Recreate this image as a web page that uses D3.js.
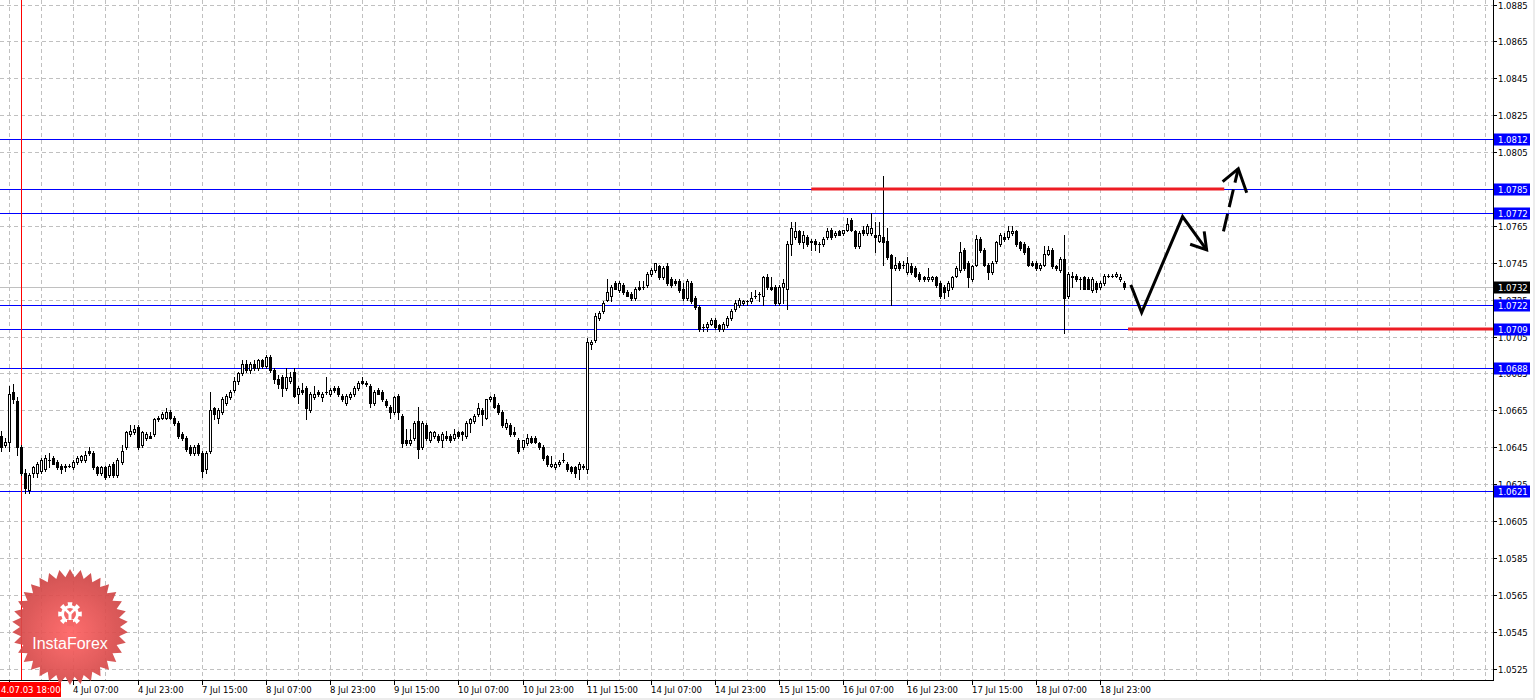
<!DOCTYPE html>
<html><head><meta charset="utf-8">
<script src="https://cdn.jsdelivr.net/npm/d3@7"></script>
<style>html,body{margin:0;padding:0;background:#fff;overflow:hidden}</style>
</head><body><svg id="c" width="1535" height="700"></svg>
<script>
// ---------- DATA ----------
// candles: [open, high, low, close], one per H1 bar
const candles = [
[1.0651,1.0654,1.0643,1.0645],[1.0646,1.0650,1.0645,1.0648],[1.0648,1.0678,1.0643,1.0674],[1.0675,1.0679,1.0669,1.0671],
[1.0670,1.0672,1.0641,1.0645],[1.0645,1.0646,1.0630,1.0631],[1.0631,1.0633,1.0620,1.0623],[1.0622,1.0631,1.0620,1.0630],
[1.0631,1.0635,1.0629,1.0634],[1.0631,1.0637,1.0629,1.0636],[1.0632,1.0639,1.0631,1.0638],[1.0633,1.0641,1.0632,1.0639],
[1.0638,1.0642,1.0634,1.0638],[1.0639,1.0640,1.0636,1.0636],[1.0637,1.0638,1.0633,1.0634],[1.0635,1.0636,1.0631,1.0633],
[1.0634,1.0636,1.0632,1.0635],[1.0635,1.0636,1.0634,1.0635],[1.0634,1.0638,1.0633,1.0637],[1.0637,1.0640,1.0636,1.0639],
[1.0638,1.0641,1.0637,1.0640],[1.0638,1.0643,1.0637,1.0641],[1.0643,1.0645,1.0641,1.0642],[1.0642,1.0643,1.0633,1.0634],
[1.0634,1.0635,1.0630,1.0631],[1.0631,1.0635,1.0630,1.0634],[1.0634,1.0635,1.0628,1.0629],[1.0630,1.0636,1.0629,1.0635],
[1.0636,1.0637,1.0629,1.0630],[1.0630,1.0639,1.0629,1.0638],[1.0637,1.0646,1.0636,1.0643],[1.0645,1.0654,1.0644,1.0653],
[1.0652,1.0657,1.0651,1.0654],[1.0653,1.0657,1.0652,1.0655],[1.0656,1.0657,1.0644,1.0645],[1.0646,1.0654,1.0645,1.0653],
[1.0650,1.0653,1.0649,1.0652],[1.0651,1.0653,1.0650,1.0650],[1.0652,1.0661,1.0651,1.0660],[1.0660,1.0662,1.0659,1.0661],
[1.0661,1.0664,1.0660,1.0663],[1.0661,1.0666,1.0660,1.0664],[1.0664,1.0665,1.0660,1.0661],[1.0661,1.0662,1.0657,1.0658],
[1.0658,1.0659,1.0650,1.0651],[1.0652,1.0653,1.0649,1.0650],[1.0650,1.0651,1.0643,1.0644],[1.0645,1.0646,1.0641,1.0642],
[1.0642,1.0646,1.0641,1.0645],[1.0646,1.0647,1.0641,1.0642],[1.0642,1.0643,1.0629,1.0632],[1.0633,1.0643,1.0631,1.0642],
[1.0643,1.0675,1.0642,1.0665],[1.0666,1.0667,1.0660,1.0663],[1.0661,1.0666,1.0658,1.0665],[1.0664,1.0672,1.0663,1.0671],
[1.0669,1.0674,1.0668,1.0673],[1.0672,1.0676,1.0671,1.0675],[1.0676,1.0683,1.0675,1.0681],[1.0681,1.0686,1.0679,1.0685],
[1.0685,1.0692,1.0684,1.0690],[1.0690,1.0692,1.0686,1.0687],[1.0687,1.0691,1.0685,1.0690],[1.0690,1.0692,1.0687,1.0688],
[1.0688,1.0693,1.0687,1.0692],[1.0692,1.0693,1.0688,1.0689],[1.0689,1.0695,1.0688,1.0694],[1.0694,1.0695,1.0686,1.0687],
[1.0687,1.0688,1.0680,1.0682],[1.0682,1.0684,1.0677,1.0679],[1.0683,1.0684,1.0673,1.0677],[1.0677,1.0688,1.0676,1.0683],
[1.0681,1.0686,1.0680,1.0683],[1.0686,1.0688,1.0672,1.0673],[1.0674,1.0678,1.0669,1.0677],[1.0676,1.0680,1.0674,1.0675],
[1.0677,1.0678,1.0660,1.0666],[1.0665,1.0675,1.0664,1.0674],[1.0672,1.0678,1.0671,1.0674],[1.0675,1.0676,1.0673,1.0674],
[1.0672,1.0675,1.0670,1.0674],[1.0675,1.0683,1.0674,1.0675],[1.0674,1.0677,1.0673,1.0676],[1.0677,1.0678,1.0675,1.0676],
[1.0677,1.0678,1.0673,1.0674],[1.0673,1.0674,1.0670,1.0671],[1.0669,1.0674,1.0668,1.0673],[1.0672,1.0675,1.0671,1.0674],
[1.0674,1.0678,1.0673,1.0677],[1.0677,1.0681,1.0676,1.0680],[1.0681,1.0683,1.0679,1.0680],[1.0680,1.0681,1.0678,1.0679],
[1.0678,1.0679,1.0667,1.0669],[1.0669,1.0676,1.0668,1.0675],[1.0676,1.0677,1.0674,1.0674],[1.0675,1.0676,1.0670,1.0671],
[1.0670,1.0671,1.0667,1.0668],[1.0667,1.0668,1.0661,1.0664],[1.0664,1.0673,1.0663,1.0672],[1.0673,1.0674,1.0660,1.0664],
[1.0662,1.0663,1.0645,1.0647],[1.0649,1.0655,1.0646,1.0647],[1.0647,1.0655,1.0646,1.0649],[1.0650,1.0659,1.0649,1.0658],
[1.0659,1.0667,1.0639,1.0644],[1.0645,1.0659,1.0644,1.0658],[1.0657,1.0658,1.0649,1.0650],[1.0649,1.0654,1.0648,1.0653],
[1.0651,1.0654,1.0650,1.0653],[1.0651,1.0652,1.0648,1.0649],[1.0649,1.0653,1.0645,1.0652],[1.0651,1.0654,1.0649,1.0650],
[1.0651,1.0652,1.0648,1.0649],[1.0650,1.0655,1.0649,1.0652],[1.0653,1.0654,1.0650,1.0651],[1.0653,1.0654,1.0649,1.0652],
[1.0651,1.0659,1.0650,1.0658],[1.0658,1.0661,1.0653,1.0660],[1.0659,1.0663,1.0658,1.0662],[1.0663,1.0669,1.0662,1.0666],
[1.0665,1.0666,1.0657,1.0663],[1.0661,1.0671,1.0660,1.0671],[1.0671,1.0673,1.0670,1.0672],[1.0672,1.0674,1.0666,1.0667],
[1.0668,1.0669,1.0663,1.0664],[1.0664,1.0665,1.0656,1.0657],[1.0656,1.0660,1.0655,1.0658],[1.0657,1.0658,1.0651,1.0652],
[1.0653,1.0656,1.0651,1.0652],[1.0649,1.0650,1.0642,1.0643],[1.0645,1.0649,1.0644,1.0649],[1.0647,1.0652,1.0646,1.0650],
[1.0650,1.0651,1.0647,1.0648],[1.0650,1.0651,1.0647,1.0648],[1.0647,1.0648,1.0644,1.0645],[1.0645,1.0646,1.0638,1.0639],
[1.0640,1.0641,1.0635,1.0636],[1.0635,1.0640,1.0634,1.0636],[1.0634,1.0637,1.0633,1.0636],[1.0636,1.0638,1.0635,1.0637],
[1.0638,1.0642,1.0637,1.0638],[1.0636,1.0637,1.0632,1.0633],[1.0634,1.0635,1.0631,1.0632],[1.0634,1.0635,1.0629,1.0631],
[1.0633,1.0637,1.0628,1.0636],[1.0635,1.0636,1.0633,1.0634],[1.0633,1.0704,1.0631,1.0702],[1.0701,1.0703,1.0698,1.0702],
[1.0703,1.0718,1.0702,1.0716],[1.0715,1.0719,1.0714,1.0718],[1.0719,1.0724,1.0718,1.0723],[1.0725,1.0736,1.0724,1.0729],
[1.0727,1.0733,1.0724,1.0732],[1.0734,1.0735,1.0731,1.0731],[1.0730,1.0735,1.0729,1.0734],[1.0733,1.0734,1.0728,1.0729],
[1.0729,1.0730,1.0727,1.0727],[1.0728,1.0729,1.0725,1.0726],[1.0726,1.0732,1.0725,1.0731],[1.0732,1.0735,1.0730,1.0731],
[1.0732,1.0735,1.0731,1.0732],[1.0733,1.0740,1.0732,1.0739],[1.0739,1.0742,1.0738,1.0741],[1.0741,1.0745,1.0740,1.0745],
[1.0743,1.0744,1.0736,1.0737],[1.0737,1.0743,1.0736,1.0742],[1.0743,1.0745,1.0733,1.0734],[1.0736,1.0737,1.0732,1.0733],
[1.0735,1.0736,1.0733,1.0734],[1.0735,1.0736,1.0729,1.0730],[1.0731,1.0734,1.0725,1.0726],[1.0726,1.0736,1.0725,1.0735],
[1.0734,1.0735,1.0723,1.0724],[1.0726,1.0727,1.0720,1.0721],[1.0721,1.0722,1.0708,1.0709],[1.0710,1.0712,1.0708,1.0710],
[1.0710,1.0713,1.0708,1.0712],[1.0712,1.0715,1.0711,1.0714],[1.0714,1.0715,1.0709,1.0710],[1.0711,1.0712,1.0708,1.0709],
[1.0709,1.0713,1.0708,1.0712],[1.0711,1.0716,1.0710,1.0715],[1.0715,1.0720,1.0714,1.0719],[1.0720,1.0725,1.0719,1.0723],
[1.0722,1.0726,1.0721,1.0725],[1.0723,1.0725,1.0722,1.0724],[1.0724,1.0725,1.0722,1.0724],[1.0724,1.0729,1.0723,1.0726],
[1.0727,1.0730,1.0726,1.0727],[1.0728,1.0729,1.0724,1.0728],[1.0727,1.0738,1.0722,1.0737],[1.0737,1.0739,1.0731,1.0732],
[1.0732,1.0737,1.0730,1.0731],[1.0732,1.0733,1.0722,1.0723],[1.0723,1.0733,1.0722,1.0732],[1.0732,1.0736,1.0723,1.0734],
[1.0731,1.0757,1.0720,1.0755],[1.0755,1.0767,1.0749,1.0764],[1.0759,1.0767,1.0758,1.0762],[1.0762,1.0763,1.0755,1.0756],
[1.0756,1.0762,1.0753,1.0760],[1.0759,1.0760,1.0754,1.0755],[1.0756,1.0758,1.0752,1.0757],[1.0757,1.0758,1.0752,1.0755],
[1.0755,1.0756,1.0751,1.0755],[1.0755,1.0759,1.0754,1.0758],[1.0759,1.0764,1.0758,1.0762],[1.0763,1.0764,1.0758,1.0759],
[1.0760,1.0762,1.0759,1.0761],[1.0762,1.0763,1.0760,1.0760],[1.0761,1.0763,1.0760,1.0763],[1.0763,1.0769,1.0762,1.0766],
[1.0768,1.0769,1.0762,1.0763],[1.0762,1.0763,1.0753,1.0754],[1.0754,1.0762,1.0753,1.0761],[1.0763,1.0765,1.0760,1.0761],
[1.0761,1.0766,1.0760,1.0765],[1.0761,1.0772,1.0760,1.0764],[1.0760,1.0767,1.0751,1.0759],[1.0757,1.0767,1.0756,1.0760],
[1.0759,1.0792,1.0744,1.0756],[1.0757,1.0764,1.0747,1.0748],[1.0749,1.0750,1.0722,1.0742],[1.0742,1.0748,1.0741,1.0744],
[1.0745,1.0746,1.0741,1.0742],[1.0744,1.0746,1.0742,1.0744],[1.0740,1.0748,1.0739,1.0745],[1.0743,1.0745,1.0739,1.0740],
[1.0742,1.0743,1.0737,1.0738],[1.0739,1.0740,1.0735,1.0736],[1.0737,1.0738,1.0735,1.0736],[1.0736,1.0742,1.0735,1.0737],
[1.0736,1.0738,1.0735,1.0737],[1.0737,1.0738,1.0732,1.0733],[1.0734,1.0735,1.0726,1.0727],[1.0732,1.0733,1.0726,1.0729],
[1.0730,1.0735,1.0727,1.0734],[1.0732,1.0738,1.0731,1.0737],[1.0738,1.0743,1.0737,1.0742],[1.0741,1.0756,1.0740,1.0751],
[1.0752,1.0753,1.0741,1.0742],[1.0745,1.0746,1.0732,1.0737],[1.0736,1.0744,1.0735,1.0743],[1.0744,1.0760,1.0743,1.0758],
[1.0758,1.0759,1.0751,1.0752],[1.0752,1.0753,1.0743,1.0744],[1.0744,1.0745,1.0736,1.0740],[1.0740,1.0746,1.0739,1.0745],
[1.0746,1.0757,1.0745,1.0756],[1.0755,1.0761,1.0754,1.0760],[1.0759,1.0761,1.0757,1.0758],[1.0759,1.0765,1.0758,1.0762],
[1.0761,1.0765,1.0760,1.0762],[1.0762,1.0763,1.0754,1.0755],[1.0756,1.0757,1.0752,1.0753],[1.0755,1.0756,1.0750,1.0751],
[1.0753,1.0754,1.0743,1.0744],[1.0745,1.0746,1.0743,1.0744],[1.0745,1.0746,1.0741,1.0742],[1.0742,1.0745,1.0741,1.0744],
[1.0744,1.0754,1.0743,1.0750],[1.0750,1.0754,1.0749,1.0752],[1.0752,1.0753,1.0742,1.0743],[1.0743,1.0744,1.0741,1.0742],
[1.0741,1.0748,1.0740,1.0747],[1.0747,1.0760,1.0707,1.0726],[1.0727,1.0740,1.0726,1.0739],[1.0737,1.0740,1.0732,1.0738],
[1.0738,1.0739,1.0735,1.0736],[1.0736,1.0737,1.0731,1.0736],[1.0737,1.0738,1.0731,1.0731],[1.0736,1.0737,1.0731,1.0731],
[1.0730,1.0737,1.0729,1.0736],[1.0734,1.0735,1.0729,1.0731],[1.0732,1.0735,1.0731,1.0734],[1.0734,1.0739,1.0733,1.0738],
[1.0738,1.0739,1.0737,1.0738],[1.0738,1.0739,1.0737,1.0738],[1.0738,1.0740,1.0737,1.0739],[1.0736,1.0739,1.0735,1.0737],
[1.0734,1.0735,1.0731,1.0732]
];
const priceTicks = [1.0885,1.0865,1.0845,1.0825,1.0805,1.0785,1.0765,1.0745,1.0725,1.0705,1.0685,1.0665,1.0645,1.0625,1.0605,1.0585,1.0565,1.0545,1.0525];
const levelLines = [1.0812,1.0785,1.0772,1.0722,1.0709,1.0688,1.0621];
const currentPrice = 1.0732;
const timeLabels = ["4 Jul 07:00","4 Jul 23:00","7 Jul 15:00","8 Jul 07:00","8 Jul 23:00","9 Jul 15:00","10 Jul 07:00","10 Jul 23:00","11 Jul 15:00","14 Jul 07:00","14 Jul 23:00","15 Jul 15:00","16 Jul 07:00","16 Jul 23:00","17 Jul 15:00","18 Jul 07:00","18 Jul 23:00"];
const timeLabelBars = [18,34,50,66,82,98,114,130,146,162,178,194,210,226,242,258,274];
const cursorBar = 5;
const cursorLabel = "4.07.03 18:00";
const redLevels = [{price:1.0785, from:202, to:305},{price:1.0709, from:281, to:372}];
const forecastSolid = [[281.7,1.0733],[284.4,1.0718],[294.6,1.0770],[300.6,1.0752]];
const forecastHead1 = [[300.0,1.0762],[300.6,1.0752],[296.5,1.0755]];
const forecastDashed = [[304.8,1.0762],[308.5,1.0796]];
const forecastHead2 = [[304.6,1.0789],[308.5,1.0796],[310.6,1.0783]];

// ---------- DRAW ----------
const W=1535, H=700, PR=1493, PB=680;
const x = d3.scaleLinear().domain([0,372]).range([1.2, 1.2+4.01*372]);
const y = d3.scaleLinear().domain([1.0885,1.0525]).range([4.5,668.5]);
const svg = d3.select('#c');
const FONT = "'DejaVu Sans', Verdana, sans-serif";
svg.append('rect').attr('width',W).attr('height',H).attr('fill','#fff');
svg.append('rect').attr('x',0).attr('y',698).attr('width',W).attr('height',2).attr('fill','#ececec');
svg.append('rect').attr('x',1533).attr('y',0).attr('width',2).attr('height',H).attr('fill','#ececec');

const plot = svg.append('g').attr('shape-rendering','crispEdges');
// grid
const gridBars = d3.range(2, 373, 8);
plot.selectAll('.vg').data(gridBars).enter().append('line')
  .attr('x1',d=>Math.round(x(d))+0.5).attr('x2',d=>Math.round(x(d))+0.5)
  .attr('y1',0).attr('y2',PB).attr('stroke','#c0c0c0').attr('stroke-dasharray','4,3');
plot.selectAll('.hg').data(priceTicks).enter().append('line')
  .attr('x1',0).attr('x2',PR).attr('y1',d=>Math.round(y(d))+0.5).attr('y2',d=>Math.round(y(d))+0.5)
  .attr('stroke','#c0c0c0').attr('stroke-dasharray','4,3');
// current price line
plot.append('line').attr('x1',0).attr('x2',PR)
  .attr('y1',Math.round(y(currentPrice))+0.5).attr('y2',Math.round(y(currentPrice))+0.5)
  .attr('stroke','#c0c0c0');
// level lines
plot.selectAll('.lv').data(levelLines).enter().append('line')
  .attr('x1',0).attr('x2',PR).attr('y1',d=>Math.round(y(d))+0.5).attr('y2',d=>Math.round(y(d))+0.5)
  .attr('stroke','#0000ff').attr('stroke-width',1.2);
// cursor vertical line
plot.append('line').attr('x1',Math.round(x(cursorBar))+0.5).attr('x2',Math.round(x(cursorBar))+0.5)
  .attr('y1',0).attr('y2',PB).attr('stroke','#ff0000');

// candles
const cg = plot.append('g');
candles.forEach((c,i)=>{
  const [o,h,l,cl] = c;
  const cx = Math.round(x(i));
  const yh = Math.round(y(h)), yl = Math.round(y(l));
  const yt = Math.round(y(Math.max(o,cl))), yb = Math.round(y(Math.min(o,cl)));
  cg.append('line').attr('x1',cx+0.5).attr('x2',cx+0.5).attr('y1',yh).attr('y2',yl+1).attr('stroke','#000');
  if (yt === yb) {
    cg.append('line').attr('x1',cx-1).attr('x2',cx+2).attr('y1',yt+0.5).attr('y2',yt+0.5).attr('stroke','#000');
  } else if (cl > o) {
    cg.append('rect').attr('x',cx-0.5).attr('y',yt+0.5).attr('width',2).attr('height',yb-yt)
      .attr('fill','#fff').attr('stroke','#000');
  } else {
    cg.append('rect').attr('x',cx-1).attr('y',yt).attr('width',3).attr('height',yb-yt+1).attr('fill','#000');
  }
});

// red level segments
svg.selectAll('.rl').data(redLevels).enter().append('line')
  .attr('x1',d=>x(d.from)).attr('x2',d=>Math.min(x(d.to),PR)).attr('y1',d=>y(d.price)).attr('y2',d=>y(d.price))
  .attr('stroke','#ed1c24').attr('stroke-width',3);

// forecast arrows
const ln = d3.line().x(d=>x(d[0])).y(d=>y(d[1]));
[forecastSolid, forecastHead1, forecastHead2].forEach(p=>{
  svg.append('path').attr('d',ln(p)).attr('fill','none').attr('stroke','#000')
    .attr('stroke-width',3).attr('stroke-linejoin','miter');
});
svg.append('path').attr('d',ln(forecastDashed)).attr('fill','none').attr('stroke','#000')
  .attr('stroke-width',3).attr('stroke-dasharray','18,7');

// axes
const ax = svg.append('g').attr('shape-rendering','crispEdges');
ax.append('line').attr('x1',0).attr('x2',PR+1).attr('y1',PB+0.5).attr('y2',PB+0.5).attr('stroke','#000');
ax.append('line').attr('x1',PR+0.5).attr('x2',PR+0.5).attr('y1',0).attr('y2',PB+1).attr('stroke','#000');
ax.selectAll('.rt').data(priceTicks).enter().append('line')
  .attr('x1',PR).attr('x2',PR+4).attr('y1',d=>Math.round(y(d))+0.5).attr('y2',d=>Math.round(y(d))+0.5).attr('stroke','#000');
svg.selectAll('.rtl').data(priceTicks).enter().append('text')
  .attr('x',PR+5).attr('y',d=>Math.round(y(d))+3.5).text(d=>d.toFixed(4))
  .attr('font-family',FONT).attr('font-size','8.5px').attr('fill','#000');
const xTickBars = [2].concat(timeLabelBars);
ax.selectAll('.bt').data(xTickBars).enter().append('line')
  .attr('x1',d=>Math.round(x(d))+0.5).attr('x2',d=>Math.round(x(d))+0.5).attr('y1',PB).attr('y2',PB+5).attr('stroke','#000');
svg.selectAll('.btl').data(timeLabels).enter().append('text')
  .attr('x',(d,i)=>Math.round(x(timeLabelBars[i]))).attr('y',693).text(d=>d)
  .attr('font-family',FONT).attr('font-size','8.5px').attr('fill','#000');

// level labels on axis
const boxes = levelLines.map(p=>({p, fill:'#0000ff'})).concat([{p:currentPrice, fill:'#000'}]);
const bg = svg.selectAll('.bx').data(boxes).enter().append('g');
bg.append('rect').attr('x',PR+1).attr('y',d=>Math.round(y(d.p))-5.5).attr('width',36).attr('height',12).attr('fill',d=>d.fill);
bg.append('text').attr('x',PR+5).attr('y',d=>Math.round(y(d.p))+3.5).text(d=>d.p.toFixed(4))
  .attr('font-family',FONT).attr('font-size','8.5px').attr('fill','#fff');

// cursor date label
svg.append('rect').attr('x',0).attr('y',682).attr('width',61).attr('height',15).attr('fill','#ff0000');
svg.append('text').attr('x',1).attr('y',693).text(cursorLabel)
  .attr('font-family',FONT).attr('font-size','8.5px').attr('fill','#fff');

// InstaForex logo
const defs = svg.append('defs');
const rg = defs.append('radialGradient').attr('id','lg').attr('cx','50%').attr('cy','55%').attr('r','55%');
rg.append('stop').attr('offset','0%').attr('stop-color','#ff6262');
rg.append('stop').attr('offset','100%').attr('stop-color','#cc4444');
const LX=70, LY=627, N=34;
const starPts = d3.range(2*N).map(k=>{
  const a = k*Math.PI/N - Math.PI/2, r = k%2 ? 50 : 58;
  return [LX + r*Math.cos(a), LY + r*Math.sin(a)];
});
const logo = svg.append('g').attr('opacity',0.92);
logo.append('polygon').attr('points',starPts.map(p=>p.join(',')).join(' ')).attr('fill','url(#lg)');
// gear
const GX=70, GY=614;
const gearPts = [];
d3.range(8).forEach(t=>{
  const a0 = t*Math.PI/4;
  [[-0.22,9],[-0.2,12],[0.2,12],[0.22,9],[0.58,9]].forEach(([da,r])=>{
    gearPts.push([GX + r*Math.cos(a0+da-Math.PI/2), GY + r*Math.sin(a0+da-Math.PI/2)]);
  });
});
logo.append('polygon').attr('points',gearPts.map(p=>p.join(',')).join(' ')).attr('fill','#fff');
logo.append('circle').attr('cx',GX).attr('cy',GY).attr('r',6).attr('fill','#f25a5a');
logo.append('rect').attr('x',GX-1.5).attr('y',GY-2).attr('width',3).attr('height',12).attr('fill','#fff');
logo.append('path').attr('d',`M${GX-5},${GY-5} L${GX},${GY} L${GX+5},${GY-5}`).attr('stroke','#fff').attr('stroke-width',2.5).attr('fill','none');
logo.append('rect').attr('x',GX-3).attr('y',GY+6).attr('width',6).attr('height',6).attr('fill','#f25a5a');
logo.append('text').attr('x',LX).attr('y',649).attr('text-anchor','middle').text('InstaForex')
  .attr('font-family',"'Liberation Sans', Arial, sans-serif").attr('font-size','16px').attr('fill','#fff');
</script></body></html>
